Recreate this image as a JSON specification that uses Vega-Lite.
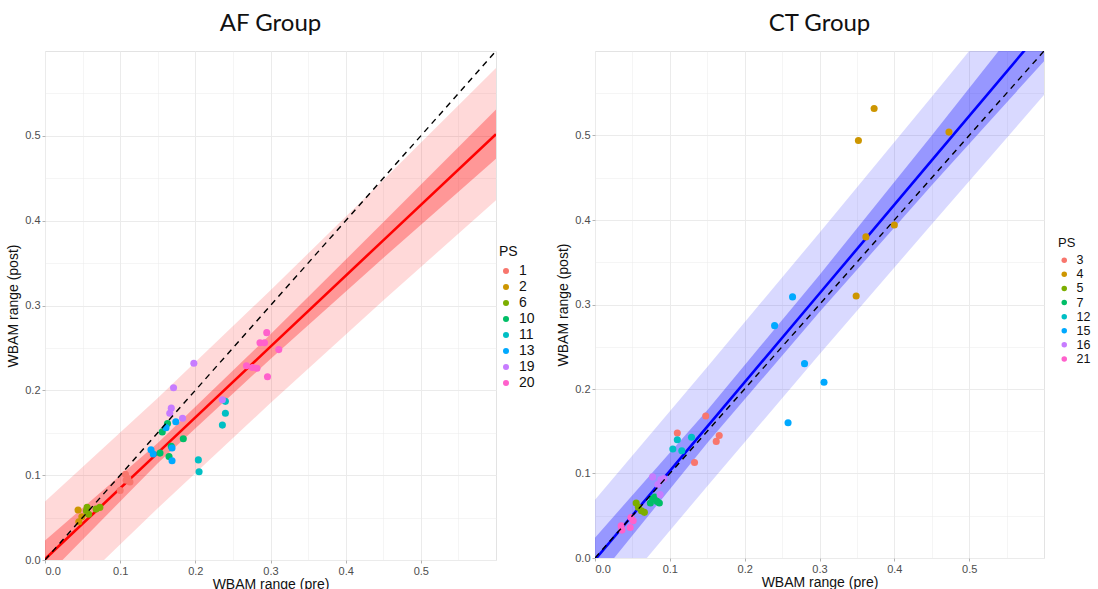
{
  "$schema": "https://vega.github.io/schema/vega-lite/v6.json",
  "padding": {"left": 6, "top": 11, "right": 0, "bottom": 0},
  "background": "white",
  "spacing": 20,
  "datasets": {
    "af_pts": [
      {"PS": "1", "pre": 0.100, "post": 0.082},
      {"PS": "1", "pre": 0.107, "post": 0.101},
      {"PS": "1", "pre": 0.110, "post": 0.096},
      {"PS": "1", "pre": 0.113, "post": 0.092},
      {"PS": "1", "pre": 0.108, "post": 0.094},
      {"PS": "2", "pre": 0.044, "post": 0.059},
      {"PS": "2", "pre": 0.045, "post": 0.045},
      {"PS": "2", "pre": 0.049, "post": 0.051},
      {"PS": "6", "pre": 0.055, "post": 0.058},
      {"PS": "6", "pre": 0.056, "post": 0.062},
      {"PS": "6", "pre": 0.058, "post": 0.054},
      {"PS": "6", "pre": 0.068, "post": 0.060},
      {"PS": "6", "pre": 0.073, "post": 0.062},
      {"PS": "10", "pre": 0.153, "post": 0.126},
      {"PS": "10", "pre": 0.156, "post": 0.151},
      {"PS": "10", "pre": 0.163, "post": 0.161},
      {"PS": "10", "pre": 0.165, "post": 0.122},
      {"PS": "10", "pre": 0.168, "post": 0.134},
      {"PS": "10", "pre": 0.184, "post": 0.143},
      {"PS": "11", "pre": 0.240, "post": 0.187},
      {"PS": "11", "pre": 0.240, "post": 0.173},
      {"PS": "11", "pre": 0.236, "post": 0.159},
      {"PS": "11", "pre": 0.204, "post": 0.118},
      {"PS": "11", "pre": 0.205, "post": 0.104},
      {"PS": "13", "pre": 0.141, "post": 0.130},
      {"PS": "13", "pre": 0.144, "post": 0.125},
      {"PS": "13", "pre": 0.161, "post": 0.156},
      {"PS": "13", "pre": 0.174, "post": 0.163},
      {"PS": "13", "pre": 0.169, "post": 0.132},
      {"PS": "13", "pre": 0.169, "post": 0.117},
      {"PS": "19", "pre": 0.198, "post": 0.232},
      {"PS": "19", "pre": 0.171, "post": 0.203},
      {"PS": "19", "pre": 0.168, "post": 0.179},
      {"PS": "19", "pre": 0.166, "post": 0.173},
      {"PS": "19", "pre": 0.183, "post": 0.167},
      {"PS": "19", "pre": 0.236, "post": 0.189},
      {"PS": "20", "pre": 0.295, "post": 0.268},
      {"PS": "20", "pre": 0.286, "post": 0.256},
      {"PS": "20", "pre": 0.292, "post": 0.256},
      {"PS": "20", "pre": 0.311, "post": 0.248},
      {"PS": "20", "pre": 0.268, "post": 0.229},
      {"PS": "20", "pre": 0.276, "post": 0.227},
      {"PS": "20", "pre": 0.282, "post": 0.226},
      {"PS": "20", "pre": 0.296, "post": 0.216}
    ],
    "ct_pts": [
      {"PS": "3", "pre": 0.110, "post": 0.148},
      {"PS": "3", "pre": 0.148, "post": 0.168},
      {"PS": "3", "pre": 0.166, "post": 0.145},
      {"PS": "3", "pre": 0.162, "post": 0.138},
      {"PS": "3", "pre": 0.133, "post": 0.113},
      {"PS": "4", "pre": 0.373, "post": 0.532},
      {"PS": "4", "pre": 0.352, "post": 0.494},
      {"PS": "4", "pre": 0.473, "post": 0.504},
      {"PS": "4", "pre": 0.362, "post": 0.380},
      {"PS": "4", "pre": 0.400, "post": 0.394},
      {"PS": "4", "pre": 0.349, "post": 0.310},
      {"PS": "5", "pre": 0.055, "post": 0.065},
      {"PS": "5", "pre": 0.058, "post": 0.060},
      {"PS": "5", "pre": 0.062, "post": 0.056},
      {"PS": "5", "pre": 0.066, "post": 0.054},
      {"PS": "7", "pre": 0.074, "post": 0.065},
      {"PS": "7", "pre": 0.077, "post": 0.070},
      {"PS": "7", "pre": 0.080, "post": 0.072},
      {"PS": "7", "pre": 0.083, "post": 0.067},
      {"PS": "7", "pre": 0.086, "post": 0.065},
      {"PS": "12", "pre": 0.110, "post": 0.140},
      {"PS": "12", "pre": 0.104, "post": 0.129},
      {"PS": "12", "pre": 0.116, "post": 0.127},
      {"PS": "12", "pre": 0.129, "post": 0.143},
      {"PS": "15", "pre": 0.264, "post": 0.309},
      {"PS": "15", "pre": 0.240, "post": 0.275},
      {"PS": "15", "pre": 0.280, "post": 0.230},
      {"PS": "15", "pre": 0.306, "post": 0.208},
      {"PS": "15", "pre": 0.258, "post": 0.160},
      {"PS": "16", "pre": 0.077, "post": 0.096},
      {"PS": "16", "pre": 0.088, "post": 0.093},
      {"PS": "16", "pre": 0.084, "post": 0.087},
      {"PS": "16", "pre": 0.092, "post": 0.094},
      {"PS": "16", "pre": 0.087, "post": 0.075},
      {"PS": "21", "pre": 0.035, "post": 0.038},
      {"PS": "21", "pre": 0.036, "post": 0.033},
      {"PS": "21", "pre": 0.048, "post": 0.048},
      {"PS": "21", "pre": 0.051, "post": 0.044},
      {"PS": "21", "pre": 0.047, "post": 0.036}
    ],
    "af_fit": [
      {"x": 0.0, "fit": 0.001, "ci_lo": -0.021, "ci_hi": 0.023, "pi_lo": -0.067, "pi_hi": 0.069},
      {"x": 0.15, "fit": 0.1263, "ci_lo": 0.114, "ci_hi": 0.138, "pi_lo": 0.061, "pi_hi": 0.191},
      {"x": 0.3, "fit": 0.2515, "ci_lo": 0.237, "ci_hi": 0.266, "pi_lo": 0.185, "pi_hi": 0.318},
      {"x": 0.45, "fit": 0.3768, "ci_lo": 0.356, "ci_hi": 0.398, "pi_lo": 0.306, "pi_hi": 0.448},
      {"x": 0.6, "fit": 0.502, "ci_lo": 0.473, "ci_hi": 0.531, "pi_lo": 0.424, "pi_hi": 0.580}
    ],
    "ct_fit": [
      {"x": 0.0, "fit": -0.002, "ci_lo": -0.028, "ci_hi": 0.024, "pi_lo": -0.073, "pi_hi": 0.069},
      {"x": 0.15, "fit": 0.1555, "ci_lo": 0.136, "ci_hi": 0.175, "pi_lo": 0.085, "pi_hi": 0.226},
      {"x": 0.3, "fit": 0.313, "ci_lo": 0.291, "ci_hi": 0.335, "pi_lo": 0.241, "pi_hi": 0.385},
      {"x": 0.45, "fit": 0.4705, "ci_lo": 0.441, "ci_hi": 0.500, "pi_lo": 0.395, "pi_hi": 0.546},
      {"x": 0.6, "fit": 0.628, "ci_lo": 0.588, "ci_hi": 0.668, "pi_lo": 0.548, "pi_hi": 0.708}
    ],
    "diag": [
      {"x": 0.0, "y": 0.0},
      {"x": 0.6, "y": 0.6}
    ]
  },
  "hconcat": [
    {
      "title": {"text": "AF Group", "offset": 15},
      "width": 451,
      "height": 509,
      "layer": [
        {
          "data": {"name": "af_fit"},
          "mark": {"type": "area", "color": "#FF0000", "opacity": 0.15, "clip": true},
          "encoding": {
            "x": {"field": "x", "type": "quantitative", "title": "WBAM range (pre)",
              "scale": {"domain": [0, 0.6], "nice": false, "zero": false},
              "axis": {"values": [0, 0.05, 0.1, 0.15, 0.2, 0.25, 0.3, 0.35, 0.4, 0.45, 0.5, 0.55],
                "labelExpr": "abs(datum.value*10 - round(datum.value*10)) < 0.01 ? format(datum.value, '.1f') : ''",
                "gridWidth": {"condition": {"test": "abs(datum.value*10 - round(datum.value*10)) < 0.01", "value": 1}, "value": 0.5},
                "tickOpacity": {"condition": {"test": "abs(datum.value*10 - round(datum.value*10)) < 0.01", "value": 1}, "value": 0}}},
            "y": {"field": "pi_lo", "type": "quantitative", "title": "WBAM range (post)",
              "scale": {"domain": [0, 0.6], "nice": false, "zero": false},
              "axis": {"values": [0, 0.05, 0.1, 0.15, 0.2, 0.25, 0.3, 0.35, 0.4, 0.45, 0.5, 0.55],
                "labelExpr": "abs(datum.value*10 - round(datum.value*10)) < 0.01 ? format(datum.value, '.1f') : ''",
                "gridWidth": {"condition": {"test": "abs(datum.value*10 - round(datum.value*10)) < 0.01", "value": 1}, "value": 0.5},
                "tickOpacity": {"condition": {"test": "abs(datum.value*10 - round(datum.value*10)) < 0.01", "value": 1}, "value": 0}}},
            "y2": {"field": "pi_hi"}
          }
        },
        {
          "data": {"name": "af_fit"},
          "mark": {"type": "area", "color": "#FF0000", "opacity": 0.3, "clip": true},
          "encoding": {
            "x": {"field": "x", "type": "quantitative", "title": "WBAM range (pre)"},
            "y": {"field": "ci_lo", "type": "quantitative", "title": "WBAM range (post)"},
            "y2": {"field": "ci_hi"}
          }
        },
        {
          "data": {"name": "af_fit"},
          "mark": {"type": "line", "color": "#FF0000", "strokeWidth": 2.6, "clip": true},
          "encoding": {
            "x": {"field": "x", "type": "quantitative", "title": "WBAM range (pre)"},
            "y": {"field": "fit", "type": "quantitative", "title": "WBAM range (post)"}
          }
        },
        {
          "data": {"name": "af_pts"},
          "mark": {"type": "circle", "size": 50, "opacity": 1},
          "encoding": {
            "x": {"field": "pre", "type": "quantitative", "title": "WBAM range (pre)"},
            "y": {"field": "post", "type": "quantitative", "title": "WBAM range (post)"},
            "color": {"field": "PS", "type": "nominal",
              "scale": {"domain": ["1", "2", "6", "10", "11", "13", "19", "20"],
                "range": ["#F8766D", "#CD9600", "#7CAE00", "#00BE67", "#00BFC4", "#00A9FF", "#C77CFF", "#FF61CC"]},
              "legend": {"title": "PS", "orient": "none", "legendX": 454, "legendY": 194,
                "titleFontSize": 14, "labelFontSize": 14, "symbolSize": 36, "rowPadding": 2, "titlePadding": 5}}
          }
        },
        {
          "data": {"name": "diag"},
          "mark": {"type": "line", "color": "black", "strokeDash": [6, 5], "strokeWidth": 1.4, "clip": true},
          "encoding": {
            "x": {"field": "x", "type": "quantitative", "title": "WBAM range (pre)"},
            "y": {"field": "y", "type": "quantitative", "title": "WBAM range (post)"}
          }
        }
      ]
    },
    {
      "title": {"text": "CT Group", "offset": 15},
      "width": 449,
      "height": 507,
      "layer": [
        {
          "data": {"name": "ct_fit"},
          "mark": {"type": "area", "color": "#0000FF", "opacity": 0.15, "clip": true},
          "encoding": {
            "x": {"field": "x", "type": "quantitative", "title": "WBAM range (pre)",
              "scale": {"domain": [0, 0.6], "nice": false, "zero": false},
              "axis": {"values": [0, 0.05, 0.1, 0.15, 0.2, 0.25, 0.3, 0.35, 0.4, 0.45, 0.5, 0.55],
                "labelExpr": "abs(datum.value*10 - round(datum.value*10)) < 0.01 ? format(datum.value, '.1f') : ''",
                "gridWidth": {"condition": {"test": "abs(datum.value*10 - round(datum.value*10)) < 0.01", "value": 1}, "value": 0.5},
                "tickOpacity": {"condition": {"test": "abs(datum.value*10 - round(datum.value*10)) < 0.01", "value": 1}, "value": 0}}},
            "y": {"field": "pi_lo", "type": "quantitative", "title": "WBAM range (post)",
              "scale": {"domain": [0, 0.6], "nice": false, "zero": false},
              "axis": {"values": [0, 0.05, 0.1, 0.15, 0.2, 0.25, 0.3, 0.35, 0.4, 0.45, 0.5, 0.55],
                "labelExpr": "abs(datum.value*10 - round(datum.value*10)) < 0.01 ? format(datum.value, '.1f') : ''",
                "gridWidth": {"condition": {"test": "abs(datum.value*10 - round(datum.value*10)) < 0.01", "value": 1}, "value": 0.5},
                "tickOpacity": {"condition": {"test": "abs(datum.value*10 - round(datum.value*10)) < 0.01", "value": 1}, "value": 0}}},
            "y2": {"field": "pi_hi"}
          }
        },
        {
          "data": {"name": "ct_fit"},
          "mark": {"type": "area", "color": "#0000FF", "opacity": 0.3, "clip": true},
          "encoding": {
            "x": {"field": "x", "type": "quantitative", "title": "WBAM range (pre)"},
            "y": {"field": "ci_lo", "type": "quantitative", "title": "WBAM range (post)"},
            "y2": {"field": "ci_hi"}
          }
        },
        {
          "data": {"name": "ct_fit"},
          "mark": {"type": "line", "color": "#0000FF", "strokeWidth": 2.6, "clip": true},
          "encoding": {
            "x": {"field": "x", "type": "quantitative", "title": "WBAM range (pre)"},
            "y": {"field": "fit", "type": "quantitative", "title": "WBAM range (post)"}
          }
        },
        {
          "data": {"name": "ct_pts"},
          "mark": {"type": "circle", "size": 50, "opacity": 1},
          "encoding": {
            "x": {"field": "pre", "type": "quantitative", "title": "WBAM range (pre)"},
            "y": {"field": "post", "type": "quantitative", "title": "WBAM range (post)"},
            "color": {"field": "PS", "type": "nominal",
              "scale": {"domain": ["3", "4", "5", "7", "12", "15", "16", "21"],
                "range": ["#F8766D", "#CD9600", "#7CAE00", "#00BE67", "#00BFC4", "#00A9FF", "#C77CFF", "#FF61CC"]},
              "legend": {"title": "PS", "orient": "none", "legendX": 463, "legendY": 186,
                "titleFontSize": 13, "labelFontSize": 12.5, "symbolSize": 30, "rowPadding": 1.1, "titlePadding": 4}}
          }
        },
        {
          "data": {"name": "diag"},
          "mark": {"type": "line", "color": "black", "strokeDash": [6, 5], "strokeWidth": 1.4, "clip": true},
          "encoding": {
            "x": {"field": "x", "type": "quantitative", "title": "WBAM range (pre)"},
            "y": {"field": "y", "type": "quantitative", "title": "WBAM range (post)"}
          }
        }
      ]
    }
  ],
  "resolve": {"scale": {"color": "independent"}, "legend": {"color": "independent"}},
  "config": {
    "view": {"stroke": "#E3E3E3", "strokeWidth": 1},
    "title": {"font": "Lato", "fontSize": 24, "fontWeight": "normal", "color": "#111111", "anchor": "middle", "frame": "group"},
    "axis": {
      "domain": false,
      "grid": true,
      "gridColor": "#EBEBEB",
      "tickColor": "#B3B3B3",
      "tickSize": 3,
      "labelFont": "Liberation Sans",
      "labelFontSize": 11,
      "labelColor": "#4D4D4D",
      "labelPadding": 2,
      "titleFont": "Liberation Sans",
      "titleFontSize": 14,
      "titleFontWeight": "normal",
      "titleColor": "#111111"
    },
    "axisX": {"titlePadding": 1},
    "axisY": {"titlePadding": 4},
    "legend": {
      "titleFont": "Liberation Sans",
      "titleFontWeight": "normal",
      "titleColor": "#111111",
      "labelFont": "Liberation Sans",
      "labelColor": "#111111",
      "symbolType": "circle",
      "labelOffset": 6
    }
  }
}
